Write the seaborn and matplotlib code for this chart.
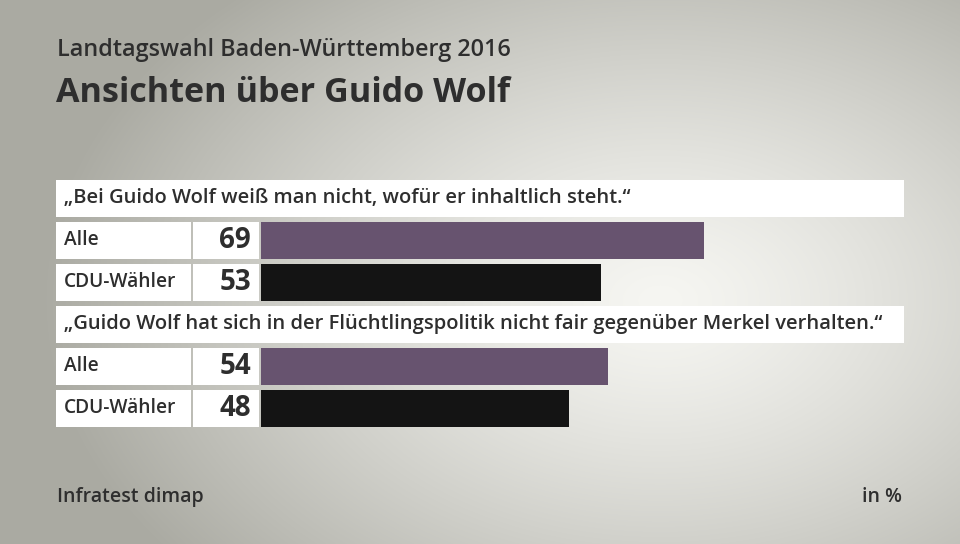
import numpy as np
import pandas as pd
import matplotlib.pyplot as plt
import seaborn as sns

# ------------------------------------------------------------
# Data
# ------------------------------------------------------------

SUBTITLE = "Landtagswahl Baden-Württemberg 2016"
TITLE = "Ansichten über Guido Wolf"
SOURCE = "Infratest dimap"
UNIT = "in %"

questions = [
    "„Bei Guido Wolf weiß man nicht, wofür er inhaltlich steht.“",
    "„Guido Wolf hat sich in der Flüchtlingspolitik nicht fair gegenüber Merkel verhalten.“",
]
groups = ["Alle", "CDU-Wähler"]
values_q1 = [69, 53]
values_q2 = [54, 48]
group_colors = ["#67536f", "#141414"]

TEXT = "#2e2e2e"
FONT = "Open Sans"

# ------------------------------------------------------------
# Build table: each question takes a header slot, then one slot per group
# ------------------------------------------------------------

rows = []
header_slots = []
slot = 0
for q, vals in zip(questions, [values_q1, values_q2]):
    header_slots.append(slot)
    slot += 1
    for g, v in zip(groups, vals):
        rows.append({"slot": slot, "group": g, "value": v})
        slot += 1
df = pd.DataFrame(rows)

# ------------------------------------------------------------
# Figure
# ------------------------------------------------------------

sns.set_theme(style="white")
plt.rcParams["font.family"] = [FONT, "DejaVu Sans"]

fig = plt.figure(figsize=(9.6, 5.44), dpi=100)

# background axes in pixel coordinates
bg = fig.add_axes([0, 0, 1, 1])
bg.set_xlim(0, 960)
bg.set_ylim(544, 0)
bg.axis("off")

yy, xx = np.mgrid[0:544, 0:960]
d = np.sqrt(((xx - 660) / 620.0) ** 2 + ((yy - 300) / 420.0) ** 2)
d = np.clip(d, 0, 1)
light = np.array([246, 246, 242]) / 255
dark = np.array([170, 170, 162]) / 255
w = d[..., None] ** 1.3
img = light[None, None, :] * (1 - w) + dark[None, None, :] * w
bg.imshow(img, extent=(0, 960, 544, 0), aspect="auto", zorder=0)

# layout (pixels)
SLOT_TOP = 177
SLOT_H = 42
BOX_H = 37
X_LEFT = 56
X_RIGHT = 904
X_LABEL_END = 191
X_VAL_START = 193
X_VAL_END = 259
X_BAR = 261


def slot_center(s):
    return SLOT_TOP + SLOT_H * (s + 0.5)


for s, q in zip(header_slots, questions):
    yc = slot_center(s)
    bg.add_patch(plt.Rectangle((X_LEFT, yc - BOX_H / 2), X_RIGHT - X_LEFT, BOX_H,
                               facecolor="white", edgecolor="none", zorder=1))
    bg.text(X_LEFT + 8, yc, q, ha="left", va="center", fontsize=14.5,
            fontweight="semibold", color=TEXT, zorder=2)

for _, r in df.iterrows():
    yc = slot_center(r["slot"])
    bg.add_patch(plt.Rectangle((X_LEFT, yc - BOX_H / 2), X_LABEL_END - X_LEFT, BOX_H,
                               facecolor="white", edgecolor="none", zorder=1))
    bg.add_patch(plt.Rectangle((X_VAL_START, yc - BOX_H / 2), X_VAL_END - X_VAL_START, BOX_H,
                               facecolor="white", edgecolor="none", zorder=1))
    bg.text(X_LEFT + 8, yc, r["group"], ha="left", va="center", fontsize=13.8,
            fontweight="semibold", color=TEXT, zorder=2)
    bg.text(X_VAL_END - 8, yc + 1, f"{r['value']}", ha="right", va="center", fontsize=20,
            fontweight="bold", color=TEXT, zorder=2)

bg.text(57, 50, SUBTITLE, ha="left", va="center", fontsize=16.8,
        fontweight="semibold", color=TEXT)
bg.text(56, 93, TITLE, ha="left", va="center", fontsize=24.6,
        fontweight="bold", color=TEXT)
bg.text(57, 497, SOURCE, ha="left", va="center", fontsize=14,
        fontweight="semibold", color=TEXT)
bg.text(902, 497, UNIT, ha="right", va="center", fontsize=14,
        fontweight="semibold", color=TEXT)

# bar axes: x in percent, y in slots
n_slots = slot
top_px = SLOT_TOP
bottom_px = SLOT_TOP + SLOT_H * n_slots
ax = fig.add_axes([X_BAR / 960, 1 - bottom_px / 544, (903 - X_BAR) / 960,
                   (bottom_px - top_px) / 544])
ax.patch.set_alpha(0)

sns.barplot(
    data=df, x="value", y="slot", hue="group", hue_order=groups,
    palette=group_colors, orient="h", native_scale=True, dodge=False,
    width=BOX_H / SLOT_H, saturation=1, legend=False, linewidth=0, ax=ax,
)
ax.set_xlim(0, 100)
ax.set_ylim(n_slots - 0.5, -0.5)
ax.axis("off")

fig.savefig("out.png", dpi=100)
